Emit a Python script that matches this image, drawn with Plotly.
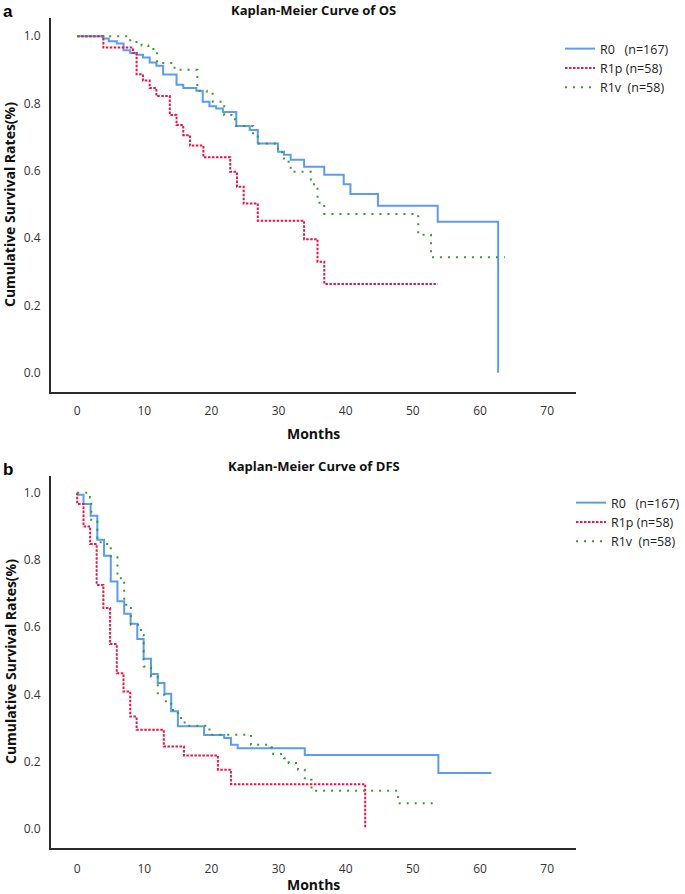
import plotly.graph_objects as go

# ---------------- Data ----------------
# Panel a: Overall survival (months, survival after each step)
os_r0_t = [0, 3.9, 4.7, 5.9, 6.9, 7.9, 8.85, 9.8, 10.8, 11.8, 12.8, 14.8, 15.8, 17.75, 18.7,
           19.7, 20.7, 21.7, 23.7, 25.7, 26.9, 29.9, 30.8, 31.8, 33.8, 36.8, 39.7, 40.7,
           44.8, 53.7, 62.7]
os_r0_s = [1.0, 0.993, 0.985, 0.978, 0.958, 0.95, 0.945, 0.937, 0.922, 0.912, 0.886, 0.856,
           0.846, 0.838, 0.805, 0.792, 0.785, 0.775, 0.733, 0.721, 0.681, 0.657, 0.648, 0.633,
           0.612, 0.588, 0.56, 0.531, 0.496, 0.449, 0.0]

os_r1p_t = [0, 3.9, 8.3, 8.85, 9.8, 10.8, 11.8, 13.8, 14.8, 15.8, 16.8, 18.8, 22.8, 23.8,
            24.8, 26.9, 33.8, 35.8, 36.8, 53.7]
os_r1p_s = [1.0, 0.966, 0.95, 0.887, 0.868, 0.846, 0.822, 0.766, 0.736, 0.706, 0.675, 0.64,
            0.597, 0.553, 0.503, 0.452, 0.397, 0.33, 0.264, 0.264]

os_r1v_t = [0, 7.9, 9.6, 10.6, 11.9, 14.5, 17.9, 19.3, 20.2, 21.9, 23.2, 23.7, 26.2, 26.9,
            29.9, 30.8, 31.8, 34.8, 35.8, 36.8, 50.8, 52.7, 63.7]
os_r1v_s = [1.0, 0.983, 0.972, 0.962, 0.92, 0.9, 0.838, 0.829, 0.805, 0.766, 0.753, 0.733,
            0.706, 0.681, 0.655, 0.627, 0.597, 0.56, 0.505, 0.472, 0.41, 0.343, 0.343]

# Panel b: Disease-free survival
dfs_r0_t = [0, 0.94, 2.0, 3.0, 4.0, 5.0, 6.0, 7.0, 7.96, 8.95, 9.9, 11.0, 12.0, 13.0, 14.0,
            15.0, 18.9, 21.9, 22.9, 23.9, 33.9, 53.8, 61.7]
dfs_r0_s = [0.994, 0.967, 0.932, 0.86, 0.8125, 0.736, 0.677, 0.64, 0.61, 0.565, 0.506, 0.461,
            0.434, 0.402, 0.35, 0.305, 0.279, 0.27, 0.25, 0.24, 0.22, 0.166, 0.166]

dfs_r1p_t = [0, 0.001, 0.94, 1.93, 2.9, 3.9, 4.9, 5.9, 6.9, 7.9, 8.85, 12.9, 15.9, 20.96, 22.9,
             42.9]
dfs_r1p_s = [1.0, 0.967, 0.90, 0.848, 0.726, 0.657, 0.55, 0.463, 0.409, 0.334, 0.295, 0.245,
             0.218, 0.176, 0.133, 0.0]

dfs_r1v_t = [0, 1.9, 2.1, 3.0, 3.5, 5.0, 6.0, 7.0, 8.0, 9.5, 9.9, 11.0, 12.0, 13.0, 14.0,
             15.0, 16.0, 19.7, 25.9, 28.9, 29.2, 30.8, 31.5, 32.9, 33.9, 34.9, 47.8, 53.8]
dfs_r1v_s = [1.0, 0.986, 0.914, 0.86, 0.848, 0.808, 0.746, 0.667, 0.607, 0.577, 0.483, 0.453,
             0.399, 0.38, 0.354, 0.33, 0.307, 0.28, 0.25, 0.243, 0.223, 0.21, 0.196, 0.176,
             0.146, 0.113, 0.076, 0.076]

group_names = ["R0\u00a0\u00a0\u00a0(n=167)", "R1p\u00a0(n=58)", "R1v\u00a0\u00a0(n=58)"]
x_ticks = [0, 10, 20, 30, 40, 50, 60, 70]
y_ticks = [0.0, 0.2, 0.4, 0.6, 0.8, 1.0]

# ---------------- Styles ----------------
blue = "#5b9cf0"
red = "#e8174a"
green = "#3a9a32"
styles = [
    dict(color=blue, width=2, dash="solid"),
    dict(color=red, width=2, dash="2.5px,1.5px"),
    dict(color=green, width=2, dash="2px,6px"),
]
font_fam = "Open Sans, DejaVu Sans, sans-serif"

fig = go.Figure()

panels = [
    ([(os_r0_t, os_r0_s), (os_r1p_t, os_r1p_s), (os_r1v_t, os_r1v_s)], "x", "y", "legend"),
    ([(dfs_r0_t, dfs_r0_s), (dfs_r1p_t, dfs_r1p_s), (dfs_r1v_t, dfs_r1v_s)], "x2", "y2", "legend2"),
]
for series, xa, ya, lg in panels:
    for (t, s), name, st in zip(series, group_names, styles):
        fig.add_trace(go.Scatter(
            x=t, y=s, mode="lines", line=dict(shape="hv", **st),
            name=name, xaxis=xa, yaxis=ya, legend=lg, hoverinfo="skip"))

axis_common = dict(
    showgrid=False, zeroline=False, showline=True, linecolor="#2b2b2b", linewidth=2,
    ticks="", automargin=False, tickfont=dict(family=font_fam, size=12, color="#333333"),
)

# Pixel layout: plot area x 51..576, y 18..848
W, H = 685, 894
ml, mr, mt, mb = 51, 109, 18, 46
ph = H - mt - mb


def py(pix):
    return (H - mb - pix) / ph


def px(pix):
    return (pix - ml) / (W - ml - mr)


fig.update_layout(
    width=W, height=H,
    margin=dict(l=ml, r=mr, t=mt, b=mb, autoexpand=False),
    paper_bgcolor="white", plot_bgcolor="white",
    showlegend=True,
    xaxis=dict(domain=[0, 1], anchor="y", range=[-3.9, 74.3], tickvals=x_ticks,
               ticklabelstandoff=7, **axis_common),
    yaxis=dict(domain=[py(392), 1], anchor="x", range=[-0.057, 1.054], tickvals=y_ticks,
               tickformat=".1f", ticklabelstandoff=6, **axis_common),
    xaxis2=dict(domain=[0, 1], anchor="y2", range=[-3.9, 74.3], tickvals=x_ticks,
                ticklabelstandoff=9, **axis_common),
    yaxis2=dict(domain=[0, py(476)], anchor="x2", range=[-0.057, 1.05], tickvals=y_ticks,
                tickformat=".1f", ticklabelstandoff=6, **axis_common),
    legend=dict(x=px(560), y=py(34), xanchor="left", yanchor="top",
                font=dict(family=font_fam, size=12.5, color="#222"),
                bgcolor="rgba(0,0,0,0)", tracegroupgap=0, itemwidth=30),
    legend2=dict(x=px(571), y=py(488), xanchor="left", yanchor="top",
                 font=dict(family=font_fam, size=12.5, color="#222"),
                 bgcolor="rgba(0,0,0,0)", tracegroupgap=0, itemwidth=30),
)

bold = dict(family=font_fam, size=14, color="#111111")
ann = []


def add_text(text, xpix, ypix, font, angle=0, xanchor="center"):
    ann.append(dict(text=text, x=px(xpix), y=py(ypix), xref="paper", yref="paper",
                    xanchor=xanchor, yanchor="middle", showarrow=False,
                    textangle=angle, font=font))


# Titles
add_text("<b>Kaplan-Meier Curve of OS</b>", 313.5, 10, dict(family=font_fam, size=13, color="#111"))
add_text("<b>Kaplan-Meier Curve of DFS</b>", 313.5, 466, dict(family=font_fam, size=13, color="#111"))
# X axis titles
add_text("<b>Months</b>", 313.5, 433, bold)
add_text("<b>Months</b>", 313.5, 884, bold)
# Y axis titles
add_text("<b>Cumulative Survival Rates(%)</b>", 10, 205, bold, angle=-90)
add_text("<b>Cumulative Survival Rates(%)</b>", 10, 662, bold, angle=-90)
# Panel letters
letter_font = dict(family="Liberation Sans, Arial, sans-serif", size=17, color="#000")
add_text("<b>a</b>", 1, 11, letter_font, xanchor="left")
add_text("<b>b</b>", 1, 469, letter_font, xanchor="left")
fig.update_layout(annotations=ann)

fig.write_html("out.html", config={"displayModeBar": False},
               post_script="document.body.style.margin='0px';")
